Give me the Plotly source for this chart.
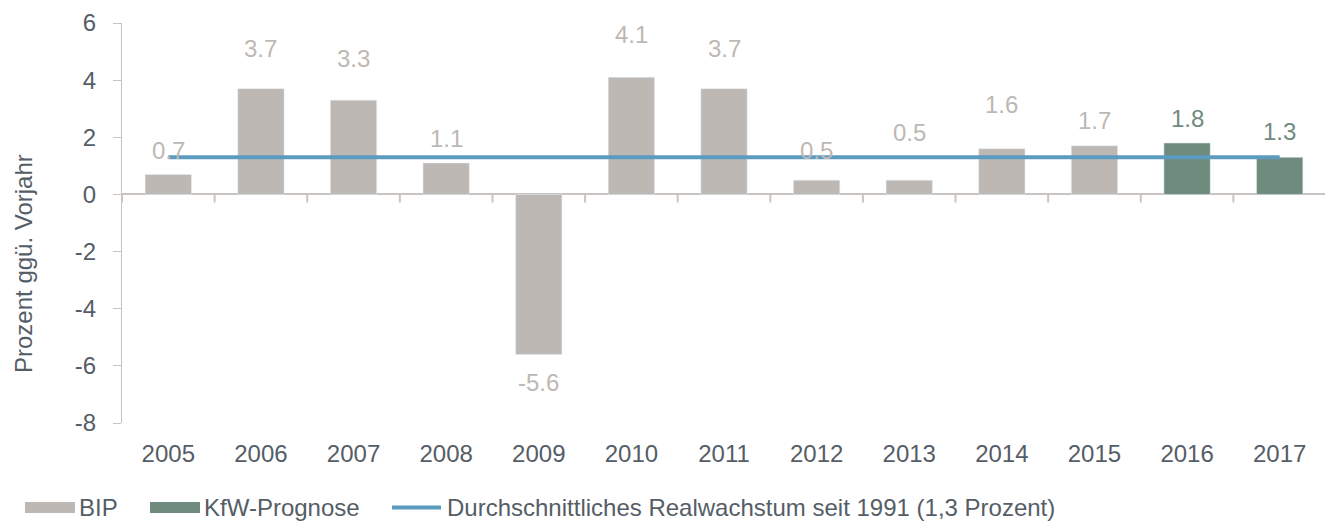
import plotly.graph_objects as go

years = ["2005", "2006", "2007", "2008", "2009", "2010", "2011", "2012", "2013", "2014", "2015", "2016", "2017"]
bip = [0.7, 3.7, 3.3, 1.1, -5.6, 4.1, 3.7, 0.5, 0.5, 1.6, 1.7, None, None]
kfw = [None, None, None, None, None, None, None, None, None, None, None, 1.8, 1.3]
avg_growth = 1.3
y_ticks = [-8, -6, -4, -2, 0, 2, 4, 6]
y_tick_text = ["-8", "-6", "-4", "-2", "0", "2", "4", "6"]
y_title = "Prozent ggü. Vorjahr"
legend_names = ["BIP", "KfW-Prognose", "Durchschnittliches Realwachstum seit 1991 (1,3 Prozent)"]

# presentation only
label_shift = [24, 40, 42, 25, -28, 43, 40, 30, 48, 44, 25, 25, 26]
legend_sym_x = [25, 150, 390]      # screen px
legend_sym_w = [50, 50, 53]
legend_y = 507.5
title_pos = (23, 264)

C_BIP = "#bdb8b3"
C_KFW = "#6f8b7d"
C_LINE = "#5b9bbf"
C_TXT = "#555d66"
C_AX = "#c9c4bf"
FONT = "Liberation Sans, Arial, sans-serif"
FS = 24

W, H = 1325, 514          # figure size (page body adds 8px offset)
ML, MR, MT, MB = 114, 7, 15, 99
OFF = 8


def px_x(px):
    return (px - OFF - ML) / (W - ML - MR)


def px_y(py):
    return (H - MB - (py - OFF)) / (H - MT - MB)


idx = list(range(len(years)))

fig = go.Figure()
fig.add_trace(go.Bar(x=idx, y=bip, marker_color=C_BIP, width=0.5, showlegend=False, name="BIP"))
fig.add_trace(go.Bar(x=idx, y=kfw, marker_color=C_KFW, width=0.5, showlegend=False, name="KfW-Prognose"))
fig.add_trace(go.Scatter(x=idx, y=[avg_growth] * len(years), mode="lines",
                         line=dict(color=C_LINE, width=4), showlegend=False))

# category boundary tick marks on the zero line
for b in range(len(years) + 1):
    fig.add_shape(type="line", xref="x", yref="y", x0=b - 0.5, x1=b - 0.5, y0=0, y1=-0.28,
                  line=dict(color=C_AX, width=2))

yr = [-8, 6]
for i in idx:
    v = bip[i] if bip[i] is not None else kfw[i]
    col = C_BIP if bip[i] is not None else C_KFW
    fig.add_annotation(x=i, y=v, xref="x", yref="y", text=f"{v:.1f}", showarrow=False,
                       yshift=label_shift[i], font=dict(size=FS, color=col))

# y-axis title
fig.add_annotation(x=px_x(title_pos[0]), y=px_y(title_pos[1]), xref="paper", yref="paper", text=y_title,
                   textangle=-90, showarrow=False, xanchor="center", yanchor="middle",
                   font=dict(size=FS, color=C_TXT), borderpad=0)

# manual legend
leg_colors = [C_BIP, C_KFW, C_LINE]
for k, name in enumerate(legend_names):
    x0 = legend_sym_x[k]
    x1 = x0 + legend_sym_w[k]
    if k < 2:
        fig.add_shape(type="rect", xref="paper", yref="paper",
                      x0=px_x(x0), x1=px_x(x1), y0=px_y(legend_y + 5.5), y1=px_y(legend_y - 5.5),
                      line=dict(width=0), fillcolor=leg_colors[k], layer="above")
    else:
        fig.add_shape(type="line", xref="paper", yref="paper",
                      x0=px_x(x0 + 2), x1=px_x(x1 - 2), y0=px_y(legend_y), y1=px_y(legend_y),
                      line=dict(width=4, color=leg_colors[k]), layer="above")
    fig.add_annotation(x=px_x(x1 + 3), y=px_y(legend_y), xref="paper", yref="paper", text=name,
                       showarrow=False, xanchor="left", yanchor="middle",
                       font=dict(size=FS, color=C_TXT), borderpad=0)

fig.update_layout(
    width=W, height=H,
    margin=dict(l=ML, r=MR, t=MT, b=MB, autoexpand=False),
    plot_bgcolor="white", paper_bgcolor="white",
    barmode="overlay",
    showlegend=False,
    font=dict(family=FONT, color=C_TXT, size=FS),
    xaxis=dict(tickvals=idx, ticktext=years, showline=False, showgrid=False, zeroline=False, ticks="",
               tickfont=dict(size=FS, color=C_TXT),
               range=[-0.5, len(years) - 0.5], ticklabelstandoff=14, automargin=False),
    yaxis=dict(range=yr, tickvals=y_ticks, ticktext=y_tick_text, showgrid=False,
               zeroline=True, zerolinecolor=C_AX, zerolinewidth=2,
               showline=True, linecolor=C_AX, linewidth=1,
               ticks="outside", ticklen=8, tickcolor=C_AX, tickfont=dict(size=FS, color=C_TXT),
               ticklabelstandoff=12, automargin=False),
)

fig.write_html("out.html")
